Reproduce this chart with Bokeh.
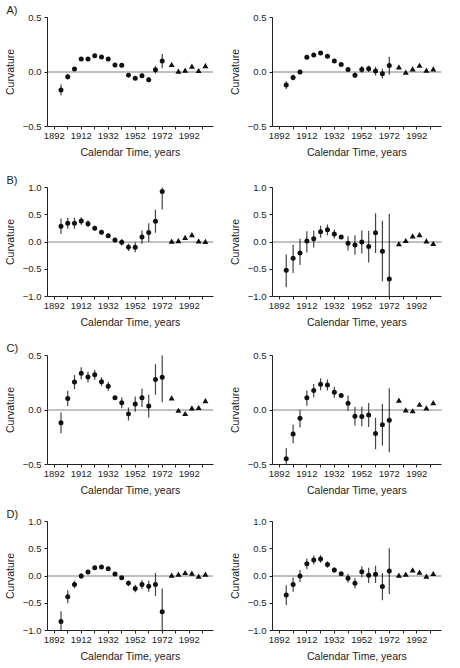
from bokeh.plotting import figure
from bokeh.layouts import column, row
from bokeh.models import FixedTicker, Span, ColumnDataSource, CustomJSTickFormatter
from bokeh.embed import file_html
from bokeh.resources import INLINE

# ---------------- data ----------------
circle_years = [1897, 1902, 1907, 1912, 1917, 1922, 1927, 1932,
                1937, 1942, 1947, 1952, 1957, 1962, 1967, 1972]
triangle_years = [1979, 1984, 1989, 1994, 1999, 2004]

x_tick_labels = [1892, 1912, 1932, 1952, 1972, 1992]
x_minor_ticks = [1902, 1922, 1942, 1962, 1982, 2002]
panel_letters = ["A)", "B)", "C)", "D)"]

# Panel A
a_left_val = [-0.165, -0.043, 0.027, 0.119, 0.119, 0.149, 0.137, 0.119, 0.064, 0.061, -0.030, -0.058, -0.034, -0.070, 0.021, 0.100]
a_left_dn = [0.05, 0.025, 0.015, 0.01, 0.01, 0.01, 0.01, 0.01, 0.01, 0.01, 0.015, 0.015, 0.02, 0.025, 0.035, 0.065]
a_left_up = [0.05, 0.025, 0.015, 0.01, 0.01, 0.01, 0.01, 0.01, 0.01, 0.01, 0.015, 0.015, 0.02, 0.025, 0.035, 0.065]
a_left_tri = [0.061, 0.0, 0.01, 0.046, 0.006, 0.05]

a_right_val = [-0.12, -0.051, 0.0, 0.136, 0.157, 0.175, 0.145, 0.10, 0.069, 0.024, -0.03, 0.024, 0.03, 0.009, -0.015, 0.06]
a_right_dn = [0.035, 0.025, 0.02, 0.015, 0.012, 0.012, 0.012, 0.01, 0.01, 0.02, 0.025, 0.03, 0.03, 0.04, 0.045, 0.085]
a_right_up = [0.035, 0.025, 0.02, 0.015, 0.012, 0.012, 0.012, 0.01, 0.01, 0.02, 0.025, 0.03, 0.03, 0.04, 0.045, 0.08]
a_right_tri = [0.039, -0.009, 0.021, 0.054, 0.009, 0.021]

# Panel B
b_left_val = [0.289, 0.343, 0.343, 0.386, 0.337, 0.253, 0.18, 0.114, 0.036, -0.006, -0.096, -0.096, 0.09, 0.175, 0.38, 0.928]
b_left_dn = [0.14, 0.1, 0.1, 0.07, 0.06, 0.04, 0.04, 0.04, 0.02, 0.06, 0.07, 0.09, 0.12, 0.17, 0.21, 0.33]
b_left_up = [0.14, 0.1, 0.1, 0.07, 0.06, 0.04, 0.04, 0.04, 0.02, 0.06, 0.07, 0.09, 0.12, 0.17, 0.21, 0.15]
b_left_tri = [0.0, 0.01, 0.07, 0.12, 0.005, -0.005]

b_right_val = [-0.518, -0.30, -0.20, 0.018, 0.06, 0.187, 0.223, 0.145, 0.09, -0.024, -0.054, 0.0, -0.084, 0.169, -0.169, -0.68]
b_right_dn = [0.31, 0.27, 0.22, 0.21, 0.16, 0.11, 0.1, 0.08, 0.02, 0.13, 0.18, 0.21, 0.29, 0.37, 0.55, 0.45]
b_right_up = [0.29, 0.25, 0.26, 0.18, 0.15, 0.11, 0.1, 0.08, 0.02, 0.13, 0.18, 0.21, 0.29, 0.36, 0.56, 1.2]
b_right_tri = [-0.048, 0.012, 0.096, 0.12, 0.006, -0.042]

# Panel C
c_left_val = [-0.118, 0.106, 0.257, 0.338, 0.302, 0.323, 0.26, 0.217, 0.112, 0.066, -0.036, 0.054, 0.112, 0.036, 0.28, 0.30]
c_left_dn = [0.095, 0.07, 0.065, 0.055, 0.05, 0.045, 0.04, 0.04, 0.01, 0.05, 0.06, 0.07, 0.085, 0.105, 0.14, 0.23]
c_left_up = [0.095, 0.07, 0.065, 0.055, 0.05, 0.045, 0.04, 0.04, 0.01, 0.05, 0.06, 0.07, 0.085, 0.105, 0.14, 0.24]
c_left_tri = [0.103, -0.01, -0.04, 0.012, 0.015, 0.078]

c_right_val = [-0.447, -0.22, -0.076, 0.112, 0.178, 0.236, 0.23, 0.163, 0.133, 0.063, -0.057, -0.06, -0.045, -0.215, -0.136, -0.094]
c_right_dn = [0.10, 0.085, 0.084, 0.072, 0.06, 0.055, 0.05, 0.05, 0.01, 0.07, 0.085, 0.09, 0.11, 0.145, 0.19, 0.293]
c_right_up = [0.097, 0.084, 0.076, 0.068, 0.06, 0.055, 0.05, 0.05, 0.01, 0.07, 0.085, 0.09, 0.11, 0.145, 0.19, 0.294]
c_right_tri = [0.082, -0.006, -0.015, 0.045, 0.012, 0.06]

# Panel D
d_left_val = [-0.837, -0.38, -0.157, 0.0, 0.072, 0.15, 0.163, 0.133, 0.036, -0.03, -0.133, -0.229, -0.157, -0.187, -0.157, -0.657]
d_left_dn = [0.19, 0.12, 0.07, 0.05, 0.04, 0.03, 0.025, 0.03, 0.01, 0.03, 0.05, 0.07, 0.08, 0.1, 0.21, 0.40]
d_left_up = [0.19, 0.12, 0.07, 0.05, 0.04, 0.03, 0.025, 0.03, 0.01, 0.03, 0.05, 0.07, 0.08, 0.1, 0.21, 0.427]
d_left_tri = [0.0, 0.018, 0.048, 0.036, -0.018, 0.018]

d_right_val = [-0.35, -0.157, 0.0, 0.223, 0.295, 0.313, 0.21, 0.108, 0.042, -0.042, -0.133, 0.078, 0.012, 0.03, -0.193, 0.09]
d_right_dn = [0.18, 0.13, 0.11, 0.1, 0.08, 0.07, 0.06, 0.05, 0.01, 0.08, 0.09, 0.1, 0.14, 0.16, 0.25, 0.42]
d_right_up = [0.18, 0.13, 0.11, 0.1, 0.08, 0.07, 0.06, 0.05, 0.01, 0.08, 0.09, 0.1, 0.14, 0.16, 0.25, 0.42]
d_right_tri = [0.0, 0.018, 0.096, 0.054, -0.018, 0.03]

panels = [
    [(a_left_val, a_left_dn, a_left_up, a_left_tri), (a_right_val, a_right_dn, a_right_up, a_right_tri)],
    [(b_left_val, b_left_dn, b_left_up, b_left_tri), (b_right_val, b_right_dn, b_right_up, b_right_tri)],
    [(c_left_val, c_left_dn, c_left_up, c_left_tri), (c_right_val, c_right_dn, c_right_up, c_right_tri)],
    [(d_left_val, d_left_dn, d_left_up, d_left_tri), (d_right_val, d_right_dn, d_right_up, d_right_tri)],
]
y_limits = [0.5, 1.0, 0.5, 1.0]

# ---------------- layout ----------------
FONT = "Liberation Sans"
row_heights = [161, 170, 168, 166]
row_top = [17, 26, 24, 22]
row_bottom = [35, 35, 35, 35]
col_widths = [225, 219]
col_left = [41, 44]
col_right = [12, 3]

rows = []
for r in range(4):
    figs = []
    lim = y_limits[r]
    for c in range(2):
        val, dn, up, tri = panels[r][c]
        p = figure(width=col_widths[c], height=row_heights[r],
                   x_range=(1887, 2010), y_range=(-lim, lim),
                   output_backend="svg", toolbar_location=None,
                   min_border_left=col_left[c], min_border_right=col_right[c],
                   min_border_top=row_top[r], min_border_bottom=row_bottom[r])
        p.outline_line_color = None
        p.grid.visible = False
        p.background_fill_color = "white"
        p.border_fill_color = "white"

        if c == 0:
            p.title.text = panel_letters[r]
            p.title.align = "left"
            p.title.offset = -41
            p.title.standoff = 3
            p.title.text_font = FONT
            p.title.text_font_size = "11px"
            p.title.text_font_style = "normal"
            p.title.text_color = "#222222"

        p.add_layout(Span(location=0, dimension="width", line_color="#000000",
                          line_width=1, line_dash="1 1"))

        src = ColumnDataSource(dict(
            x=circle_years, y=val,
            lo=[v - d for v, d in zip(val, dn)],
            hi=[v + u for v, u in zip(val, up)]))
        p.segment(x0="x", y0="lo", x1="x", y1="hi", source=src,
                  line_color="#444444", line_width=1.2)
        p.scatter(x="x", y="y", source=src, marker="circle", size=5,
                  fill_color="#111111", line_color=None)
        p.scatter(x=triangle_years, y=tri, marker="triangle", size=6,
                  fill_color="#111111", line_color=None)

        xa = p.xaxis[0]
        xa.ticker = FixedTicker(ticks=x_tick_labels, minor_ticks=x_minor_ticks)
        xa.axis_label = "Calendar Time, years"
        ya = p.yaxis[0]
        ya.ticker = FixedTicker(ticks=[-lim, -lim / 2, 0, lim / 2, lim] if lim == 1.0 else [-lim, 0, lim])
        ya.axis_label = "Curvature"
        ya.formatter = CustomJSTickFormatter(
            code="return (tick < 0 ? '\u2212' : '') + Math.abs(tick).toFixed(1);")

        for ax in (xa, ya):
            ax.axis_line_color = "#222222"
            ax.axis_line_width = 1
            ax.major_tick_line_color = "#222222"
            ax.minor_tick_line_color = "#222222"
            ax.major_tick_in = 0
            ax.major_tick_out = 3
            ax.minor_tick_in = 0
            ax.minor_tick_out = 3
            ax.major_label_text_font = FONT
            ax.major_label_text_font_size = "9.5px"
            ax.major_label_text_color = "#222222"
            ax.axis_label_text_font = FONT
            ax.axis_label_text_font_size = "10.5px"
            ax.axis_label_text_font_style = "normal"
            ax.axis_label_text_color = "#222222"
            ax.major_label_standoff = 3
        xa.axis_label_standoff = 4
        ya.axis_label_standoff = 4
        ya.minor_tick_out = 0
        figs.append(p)
    rows.append(row(*figs))

layout = column(*rows)
open("out.html", "w").write(file_html(layout, INLINE))
